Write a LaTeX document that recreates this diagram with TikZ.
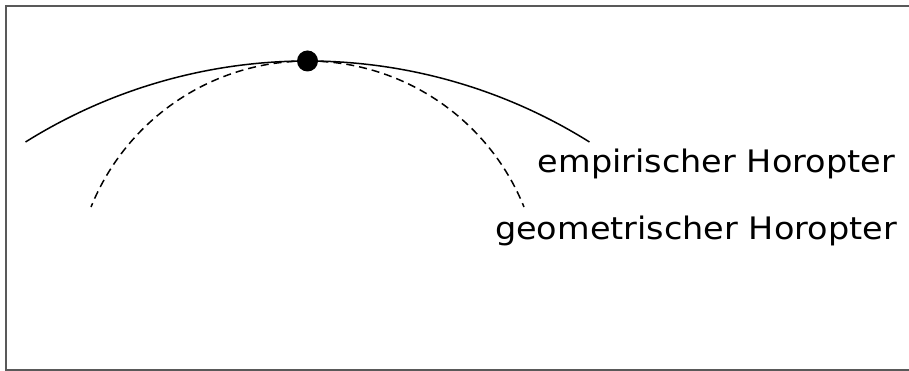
\documentclass[tikz,border=0pt]{standalone}
\usepackage{fontspec}
\setmainfont{DejaVu Sans}[FakeStretch=1.08]
\usepackage{tikz}
\usetikzlibrary{positioning}

\begin{document}
\begin{tikzpicture}[
  x=1pt, y=1pt,
  every node/.style={font=\fontsize{31}{36}\selectfont},
  label/.style={anchor=base east, inner sep=0pt},
  horo/.style={line width=1.5pt, black},
  geo/.style={horo, dash pattern=on 8pt off 5pt},
  frame/.style={line width=2pt, black!65}
]
\useasboundingbox (0,0) rectangle (909,371);
\draw[frame] (909,1) -- (6,1) -- (6,365) -- (909,365);

% fixation point
\node[circle, fill=black, inner sep=0pt, minimum size=21pt] (fix) at (307.5,310) {};

% empirical and geometrical horopter
\draw[horo] (fix.center) arc[start angle=90, end angle=122.05, radius=531.4];
\draw[horo] (fix.center) arc[start angle=90, end angle=57.95, radius=531.4];
\draw[geo] (fix.center) arc[start angle=90, end angle=158, radius=233.5];
\draw[geo] (fix.center) arc[start angle=90, end angle=22, radius=233.5];

\node[label] (emp) at (895,198) {empirischer Horopter};
\node[label] (geom) at (897,131) {geometrischer Horopter};
\end{tikzpicture}
\end{document}
